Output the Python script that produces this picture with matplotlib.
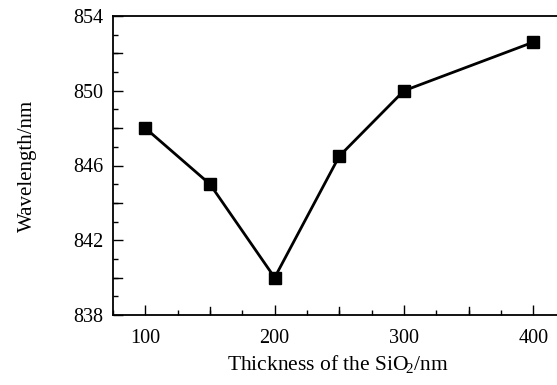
import numpy as np
import matplotlib
matplotlib.use("Agg")
import matplotlib.pyplot as plt
from matplotlib.ticker import MultipleLocator

plt.rcParams['font.family'] = ['Liberation Serif', 'DejaVu Serif']
plt.rcParams['mathtext.fontset'] = 'custom'
plt.rcParams['mathtext.rm'] = 'Liberation Serif'

# data
thickness = [100, 150, 200, 250, 300, 400]
wavelength = [848.0, 845.0, 840.0, 846.5, 850.0, 852.6]
x_ticks = [100, 200, 300, 400]
y_ticks = [838, 842, 846, 850, 854]

fig = plt.figure(figsize=(5.57, 3.85), dpi=100)
ax = fig.add_axes([113/557, 1 - 315/385, (563 - 113)/557, (315 - 16)/385])

ax.plot(thickness, wavelength, color='black', lw=2.0, marker='s',
        markersize=8.5, markerfacecolor='black', markeredgecolor='black')

ax.set_xlim(75, 423)
ax.set_ylim(838, 854)
ax.set_xticks(x_ticks)
ax.set_yticks(y_ticks)
ax.xaxis.set_minor_locator(MultipleLocator(25))
ax.yaxis.set_minor_locator(MultipleLocator(1))

# unlabeled intermediate majors drawn as longer minor ticks
for v in [150, 250, 350]:
    ax.axvline(v, ymin=0, ymax=0.027, color='black', lw=1.0)
for v in [840, 844, 848, 852]:
    ax.axhline(v, xmin=0, xmax=0.02, color='black', lw=1.0)

ax.tick_params(which='major', direction='in', length=7, width=1.0,
               labelsize=14.5, pad=10)
ax.tick_params(axis='y', which='major', pad=7)
ax.tick_params(which='minor', direction='in', length=3.5, width=1.0)
ax.tick_params(top=False, right=False, which='both')
for s in ax.spines.values():
    s.set_linewidth(1.3)

ax.set_xlabel(r'Thickness of the SiO$_{\!2}$/nm', fontsize=15.5, labelpad=4)
ax.set_ylabel('Wavelength/nm', fontsize=15, labelpad=26)

fig.savefig('out.png', dpi=100)
